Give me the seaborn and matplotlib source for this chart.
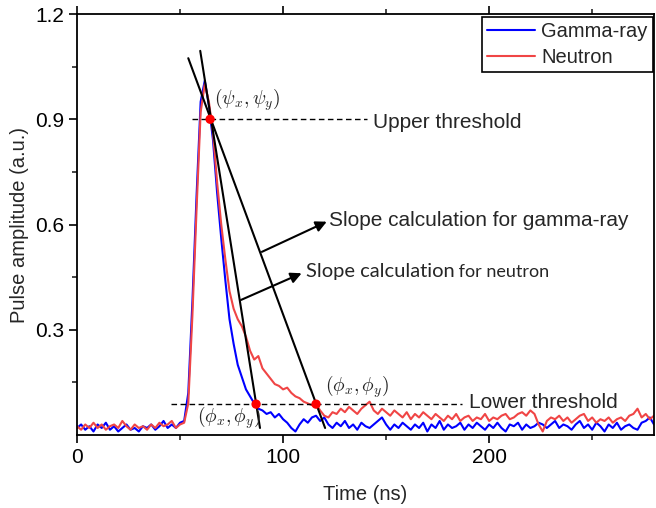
import numpy as np
import pandas as pd
import matplotlib
matplotlib.use("Agg")
import matplotlib.pyplot as plt
import seaborn as sns

# ---------------- data ----------------
time_ns = np.arange(0, 282, 2)

gamma_ray = [
    0.02, 0.03, 0.015, 0.025, 0.01, 0.03, 0.02, 0.035, 0.015, 0.025,
    0.01, 0.02, 0.03, 0.015, 0.02, 0.01, 0.025, 0.02, 0.03, 0.015,
    0.025, 0.04, 0.02, 0.03, 0.02, 0.035, 0.04,
    0.12, 0.38, 0.68, 0.95, 1.01, 0.94, 0.84, 0.69, 0.56, 0.44,
    0.33, 0.26, 0.20, 0.165, 0.13, 0.11, 0.09, 0.075, 0.07, 0.06,
    0.065, 0.05, 0.06, 0.045, 0.035, 0.02, 0.01, 0.03, 0.045, 0.035,
    0.05, 0.055, 0.04, 0.05, 0.03, 0.02, 0.035, 0.025, 0.04, 0.02,
    0.03, 0.015, 0.035, 0.025, 0.02, 0.03, 0.04, 0.05, 0.03, 0.015,
    0.03, 0.02, 0.035, 0.025, 0.015, 0.03, 0.02, 0.035, 0.01, 0.03,
    0.02, 0.04, 0.015, 0.03, 0.02, 0.025, 0.035, 0.015, 0.03, 0.02,
    0.035, 0.025, 0.015, 0.03, 0.02, 0.035, 0.02, 0.01, 0.03, 0.025,
    0.035, 0.015, 0.03, 0.02, 0.025, 0.035, 0.03, 0.02, 0.03, 0.04,
    0.02, 0.03, 0.025, 0.015, 0.03, 0.04, 0.02, 0.03, 0.015, 0.035,
    0.025, 0.01, 0.03, 0.02, 0.035, 0.015, 0.025, 0.03, 0.02, 0.015,
    0.035, 0.04, 0.05, 0.03,
]

neutron = [
    0.025, 0.015, 0.03, 0.02, 0.035, 0.02, 0.03, 0.015, 0.025, 0.03,
    0.02, 0.04, 0.025, 0.015, 0.03, 0.02, 0.025, 0.015, 0.03, 0.02,
    0.035, 0.025, 0.03, 0.04, 0.02, 0.03, 0.035,
    0.09, 0.34, 0.64, 0.92, 1.00, 0.95, 0.86, 0.72, 0.60, 0.50,
    0.41, 0.36, 0.33, 0.31, 0.28, 0.24, 0.215, 0.225, 0.19, 0.175,
    0.16, 0.145, 0.14, 0.13, 0.135, 0.12, 0.11, 0.105, 0.095, 0.09,
    0.085, 0.088, 0.07, 0.055, 0.05, 0.065, 0.06, 0.075, 0.065, 0.08,
    0.07, 0.06, 0.075, 0.085, 0.095, 0.07, 0.06, 0.075, 0.065, 0.055,
    0.07, 0.06, 0.05, 0.065, 0.045, 0.06, 0.05, 0.065, 0.055, 0.045,
    0.06, 0.05, 0.04, 0.055, 0.045, 0.06, 0.04, 0.05, 0.055, 0.04,
    0.05, 0.045, 0.06, 0.04, 0.05, 0.045, 0.055, 0.06, 0.045, 0.05,
    0.06, 0.065, 0.055, 0.07, 0.06, 0.03, 0.01, 0.04, 0.05, 0.045,
    0.055, 0.04, 0.05, 0.035, 0.045, 0.055, 0.06, 0.04, 0.05, 0.035,
    0.045, 0.04, 0.05, 0.035, 0.045, 0.05, 0.04, 0.055, 0.06, 0.075,
    0.05, 0.06, 0.045, 0.055,
]

series_names = ["Gamma-ray", "Neutron"]
series_colors = ["#0000ff", "#f04545"]

# key points: (psi) upper crossing, gamma (phi), neutron (phi)
key_t = [64.6, 86.9, 116.0]
key_y = [0.90, 0.088, 0.088]

upper_threshold = 0.90
lower_threshold = 0.088
upper_span = [55.8, 140.8]
lower_span = [45.6, 187.0]

# slope lines (end points)
gamma_slope_t = [59.8, 88.8]
gamma_slope_y = [1.095, 0.02]
neutron_slope_t = [54.0, 120.4]
neutron_slope_y = [1.074, 0.02]

# ---------------- build frame ----------------
df = pd.DataFrame({
    "Time (ns)": np.concatenate([time_ns, time_ns]),
    "Pulse amplitude (a.u.)": np.array(gamma_ray + neutron),
    "Type": [series_names[0]] * len(time_ns) + [series_names[1]] * len(time_ns),
})

sns.set_style("ticks")
plt.rcParams["font.family"] = ["Liberation Sans", "DejaVu Sans"]
plt.rcParams["mathtext.fontset"] = "cm"

fig = plt.figure(figsize=(6.56, 5.08), dpi=100)
ax = fig.add_axes([77 / 656, 1 - 435 / 508, 577 / 656, 421 / 508])

sns.lineplot(data=df, x="Time (ns)", y="Pulse amplitude (a.u.)", hue="Type",
             hue_order=series_names, palette=dict(zip(series_names, series_colors)),
             estimator=None, sort=False, linewidth=1.5, ax=ax)

# threshold lines
ax.plot(upper_span, [upper_threshold] * 2, color="black", lw=1.0, ls=(0, (4, 2.5)))
ax.plot(lower_span, [lower_threshold] * 2, color="black", lw=1.0, ls=(0, (4, 2.5)))
ax.text(upper_span[1] + 3, upper_threshold - 0.01, "Upper threshold", fontsize=15,
        va="center", ha="left")
ax.text(lower_span[1] + 3, lower_threshold + 0.005, "Lower threshold", fontsize=15,
        va="center", ha="left")

# slope lines
ax.plot(gamma_slope_t, gamma_slope_y, color="black", lw=1.5)
ax.plot(neutron_slope_t, neutron_slope_y, color="black", lw=1.5)

# key points
ax.scatter(key_t, key_y, s=45, color="#ff0000", zorder=5, edgecolor="none")

ax.text(66.5, 0.955, r"$(\psi_x, \psi_y)$", fontsize=14, ha="left", va="center")
ax.text(58.0, 0.05, r"$(\phi_x, \phi_y)$", fontsize=14, ha="left", va="center")
ax.text(120.5, 0.137, r"$(\phi_x, \phi_y)$", fontsize=14, ha="left", va="center")

# arrows and slope labels
arrow_kw = dict(arrowstyle="-|>", color="black", lw=1.5, mutation_scale=16,
                shrinkA=0, shrinkB=0)
ax.annotate("", xy=(121.2, 0.608), xytext=(89.7, 0.522), arrowprops=arrow_kw)
ax.text(122.5, 0.612, "Slope calculation for gamma-ray", fontsize=15,
        ha="left", va="center")
ax.annotate("", xy=(109.0, 0.461), xytext=(79.6, 0.385), arrowprops=arrow_kw)
t1 = ax.text(111.0, 0.466, "Slope calculation", fontsize=14.5, ha="left",
             va="center", family=["Lato", "DejaVu Sans"])
ax.annotate(" for neutron", xy=(1.0, 0.0), xycoords=t1, fontsize=13,
            ha="left", va="bottom", family=["Lato", "DejaVu Sans"])

# axes formatting
ax.set_xlim(0, 280)
ax.set_ylim(0, 1.2)
ax.set_xticks([0, 100, 200])
ax.set_xticks([50, 150, 250], minor=True)
ax.set_yticks([0.3, 0.6, 0.9, 1.2])
ax.set_yticks([0.15, 0.45, 0.75, 1.05], minor=True)
ax.set_yticklabels(["0.3", "0.6", "0.9", "1.2"])
ax.tick_params(axis="both", which="major", labelsize=15, length=6, width=1.2,
               direction="out", color="black", labelcolor="black")
ax.tick_params(axis="both", which="minor", length=3.5, width=1.2, direction="out")
ax.tick_params(axis="x", which="both", top=True)
for sp in ax.spines.values():
    sp.set_visible(True)
    sp.set_linewidth(1.3)
    sp.set_color("black")
ax.set_xlabel("Time (ns)", fontsize=14.5, labelpad=13)
ax.set_ylabel("Pulse amplitude (a.u.)", fontsize=14.5, labelpad=4)

leg = ax.legend(loc="upper right", bbox_to_anchor=(0.998, 0.993), fontsize=14.5,
                frameon=True, fancybox=False, edgecolor="black", borderaxespad=0,
                handlelength=2.4, borderpad=0.25, labelspacing=0.35,
                handletextpad=0.3, framealpha=1)
leg.get_frame().set_linewidth(1.2)
for line in leg.get_lines():
    line.set_linewidth(1.5)

fig.savefig("out.png", dpi=100)
